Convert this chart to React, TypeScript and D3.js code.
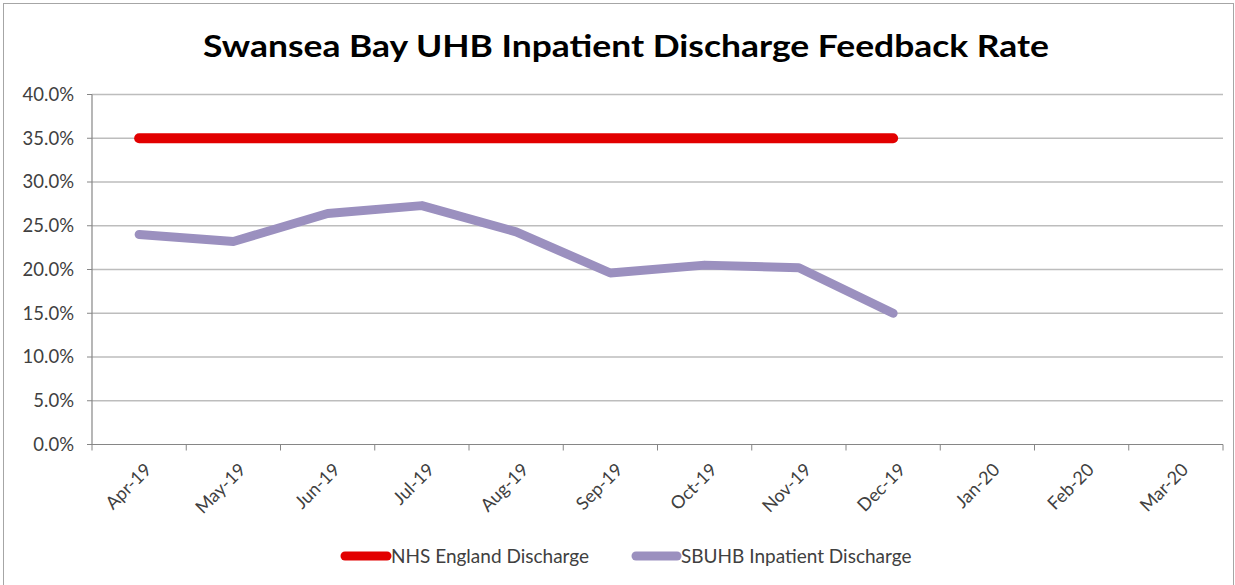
import React from 'react';
import * as d3 from 'd3';

const months = ['Apr-19', 'May-19', 'Jun-19', 'Jul-19', 'Aug-19', 'Sep-19', 'Oct-19', 'Nov-19', 'Dec-19', 'Jan-20', 'Feb-20', 'Mar-20'];
const nhsEngland = [0.35, 0.35, 0.35, 0.35, 0.35, 0.35, 0.35, 0.35, 0.35];
const sbuhb = [0.240, 0.232, 0.264, 0.273, 0.243, 0.196, 0.205, 0.202, 0.150];
const yTicks = [0, 0.05, 0.1, 0.15, 0.2, 0.25, 0.3, 0.35, 0.4];

const W = 1235, H = 585;
const left = 92, right = 1223, top = 94.5, bottom = 444.5;
const font = 'Lato, "Open Sans", sans-serif';

const App = () => {
  const x = d3.scaleBand().domain(months).range([left, right]);
  const y = d3.scaleLinear().domain([0, 0.4]).range([bottom, top]);
  const fmt = d3.format('.1%');
  const cx = (i: number) => (x(months[i]) as number) + x.bandwidth() / 2;

  const line = d3.line<number>()
    .x((d, i) => cx(i))
    .y(d => y(d));

  const edges = months.map(m => x(m) as number).concat([right]);

  return (
    <svg width={W} height={H} style={{ position: 'absolute', left: 0, top: 0, background: '#fff' }}>
      <rect x={3.5} y={3.5} width={W - 5} height={H} fill="#fff" stroke="#a6a6a6" />
      <text x={626} y={57} textAnchor="middle" fontFamily={font} fontWeight={700} fontSize={31}
        textLength={846} lengthAdjust="spacingAndGlyphs" fill="#000">
        Swansea Bay UHB Inpatient Discharge Feedback Rate
      </text>

      {yTicks.map(t => (
        <g key={t}>
          {t > 0 && <line x1={left} x2={right} y1={y(t)} y2={y(t)} stroke="#bdbdbd" strokeWidth={1.3} />}
          <line x1={left - 5} x2={left} y1={y(t)} y2={y(t)} stroke="#868686" />
          <text x={74} y={y(t)} dy="0.35em" textAnchor="end" fontFamily={font} fontSize={18.5} fill="#404040">
            {fmt(t)}
          </text>
        </g>
      ))}

      <line x1={left} x2={left} y1={top} y2={bottom} stroke="#868686" strokeWidth={1.2} />
      <line x1={left} x2={right} y1={bottom} y2={bottom} stroke="#868686" strokeWidth={1.2} />
      {edges.map((e, i) => (
        <line key={i} x1={e} x2={e} y1={bottom} y2={bottom + 6} stroke="#868686" />
      ))}

      {months.map((m, i) => (
        <text key={m} transform={`translate(${cx(i) + 9},${bottom + 22}) rotate(-45)`}
          textAnchor="end" dy="0.35em" fontFamily={font} fontSize={18} fill="#404040">
          {m}
        </text>
      ))}

      <path d={line(nhsEngland) as string} fill="none" stroke="#e20000" strokeWidth={10}
        strokeLinecap="round" strokeLinejoin="round" />
      <path d={line(sbuhb) as string} fill="none" stroke="#9b90bf" strokeWidth={9}
        strokeLinecap="round" strokeLinejoin="round" />

      <g fontFamily={font} fontSize={19} fill="#404040">
        <line x1={345} x2={387} y1={556} y2={556} stroke="#e20000" strokeWidth={9} strokeLinecap="round" />
        <text x={391} y={556} dy="0.35em">NHS England Discharge</text>
        <line x1={636} x2={677} y1={556} y2={556} stroke="#9b90bf" strokeWidth={9} strokeLinecap="round" />
        <text x={681} y={556} dy="0.35em">SBUHB Inpatient Discharge</text>
      </g>
    </svg>
  );
};

export default App;
